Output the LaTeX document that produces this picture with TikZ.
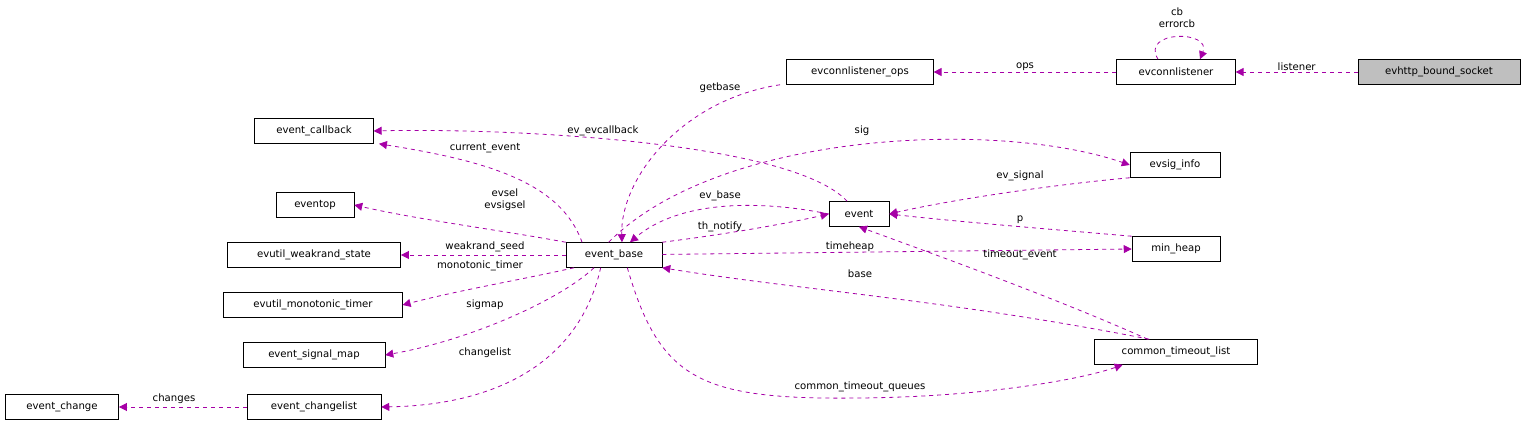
\documentclass[tikz,border=0pt]{standalone}
\usepackage{fontspec}
\setmainfont{DejaVu Sans}
\usetikzlibrary{arrows.meta}
\tikzset{
  cls/.style={draw=black,fill=white,inner sep=0pt,minimum height=18.75pt,font=\fontsize{7.6}{8}\selectfont},
  dep/.style={draw=violet!70!magenta,dashed,-{Triangle[length=6pt,width=6pt]},line width=0.6pt},
  lbl/.style={font=\fontsize{7.6}{9}\selectfont,align=center,inner sep=1pt}
}
\begin{document}
\begin{tikzpicture}[x=0.75pt,y=-0.75pt]
  \useasboundingbox (0,0) rectangle (1525,427);
  % classes
  \node[cls,fill=black!25,minimum width=121.5pt] (bound) at (1439,72) {evhttp\_bound\_socket};
  \node[cls,minimum width=89pt] (listener) at (1176,72) {evconnlistener};
  \node[cls,minimum width=110pt] (ops) at (860,72) {evconnlistener\_ops};
  \node[cls,minimum width=89pt] (callback) at (314,131) {event\_callback};
  \node[cls,minimum width=67.5pt] (siginfo) at (1175,165) {evsig\_info};
  \node[cls,minimum width=58.5pt] (eventop) at (315,205) {eventop};
  \node[cls,minimum width=45pt] (event) at (859,214) {event};
  \node[cls,minimum width=130pt] (weakrand) at (314,255) {evutil\_weakrand\_state};
  \node[cls,minimum width=72pt] (base) at (614,255) {event\_base};
  \node[cls,minimum width=66pt] (minheap) at (1176,249) {min\_heap};
  \node[cls,minimum width=134pt] (monotonic) at (313,305) {evutil\_monotonic\_timer};
  \node[cls,minimum width=122pt] (timeout) at (1176,352) {common\_timeout\_list};
  \node[cls,minimum width=106.5pt] (sigmap) at (314,355) {event\_signal\_map};
  \node[cls,minimum width=85pt] (change) at (62,407) {event\_change};
  \node[cls,minimum width=100.5pt] (changelist) at (314,407) {event\_changelist};
  % relations
  \draw[dep] (bound) -- node[lbl,above]{listener} (listener);
  \draw[dep] (listener) -- node[lbl,above]{ops} (ops);
  \draw[dep] (listener.north) ++(-18,0) .. controls (1140,30) and (1212,30) .. ([xshift=18]listener.north);
  \node[lbl] (cbl) at (1177,18) {cb\\errorcb};
  \draw[dep] ([xshift=-60]ops.south) .. controls (680,100) and (620,180) .. ([xshift=6]base.north);
  \node[lbl] at (720,88) {getbase};
  \draw[dep] (event) .. controls (790,140) and (500,128) .. (callback.east);
  \node[lbl] at (603,131) {ev\_evcallback};
  \draw[dep] ([xshift=-24]base.north) .. controls (560,180) and (480,160) .. ([xshift=4]callback.south east);
  \node[lbl] at (485,148) {current\_event};
  \draw[dep] ([xshift=-4]base.north) .. controls (720,130) and (1000,120) .. (siginfo.west);
  \node[lbl] at (862,131) {sig};
  \draw[dep] (siginfo.south west) .. controls (1050,185) and (950,200) .. (event.east);
  \node[lbl] at (1020,176) {ev\_signal};
  \draw[dep] (event.west) .. controls (760,200) and (680,200) .. ([xshift=12]base.north);
  \node[lbl] at (720,196) {ev\_base};
  \draw[dep] (base.north east) .. controls (720,235) and (780,225) .. (event.west);
  \node[lbl] at (720,227) {th\_notify};
  \draw[dep] (base.north west) .. controls (500,230) and (420,220) .. (eventop.east);
  \node[lbl] at (505,200) {evsel\\evsigsel};
  \draw[dep] (base) -- (weakrand);
  \node[lbl] at (485,247) {weakrand\_seed};
  \draw[dep] (base) -- (minheap.west);
  \node[lbl] at (850,247) {timeheap};
  \draw[dep] (minheap.north west) .. controls (1060,230) and (960,222) .. (event.east);
  \node[lbl] at (1020,220) {p};
  \draw[dep] ([xshift=-30]base.south) .. controls (520,280) and (460,290) .. (monotonic.east);
  \node[lbl] at (480,266) {monotonic\_timer};
  \draw[dep] ([xshift=40]timeout.north west) .. controls (1060,300) and (950,260) .. (event.south);
  \node[lbl] at (1020,255) {timeout\_event};
  \draw[dep] ([xshift=-20]timeout.north) .. controls (950,300) and (800,290) .. (base.south east);
  \node[lbl] at (860,274) {base};
  \draw[dep] ([xshift=-15]base.south) .. controls (560,300) and (470,340) .. (sigmap.east);
  \node[lbl] at (485,305) {sigmap};
  \draw[dep] ([xshift=-10]base.south) .. controls (580,360) and (500,405) .. (changelist.east);
  \node[lbl] at (485,353) {changelist};
  \draw[dep] ([xshift=10]base.south) .. controls (660,380) and (700,400) .. (860,398) .. controls (980,397) and (1080,380) .. ([xshift=-40]timeout.south);
  \node[lbl] at (860,387) {common\_timeout\_queues};
  \draw[dep] (changelist) -- (change);
  \node[lbl] at (174,399) {changes};
\end{tikzpicture}
\end{document}
